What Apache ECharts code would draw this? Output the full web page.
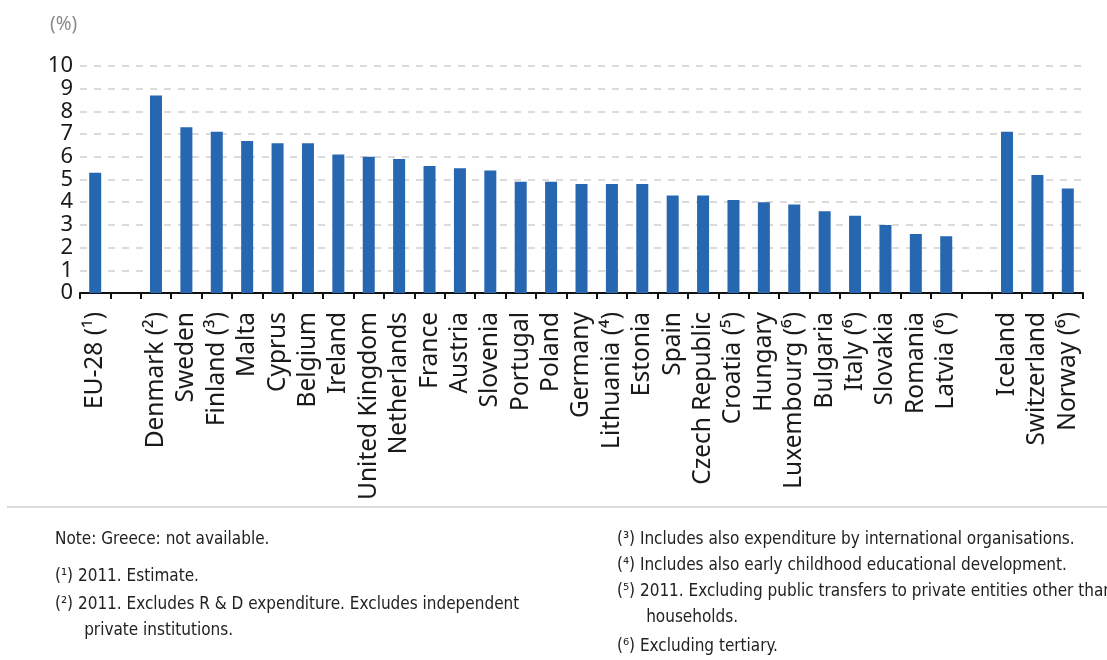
<!DOCTYPE html>
<html>
<head>
<meta charset="utf-8">
<script src="https://cdn.jsdelivr.net/npm/echarts@6/dist/echarts.min.js"></script>
<style>
html,body{margin:0;padding:0;background:#fff;}
#chart{width:1107px;height:660px;}
</style>
</head>
<body>
<div id="chart"></div>
<script>
var categories = ['EU-28 (¹)', ' ', 'Denmark (²)', 'Sweden', 'Finland (³)', 'Malta', 'Cyprus', 'Belgium', 'Ireland', 'United Kingdom', 'Netherlands', 'France', 'Austria', 'Slovenia', 'Portugal', 'Poland', 'Germany', 'Lithuania (⁴)', 'Estonia', 'Spain', 'Czech Republic', 'Croatia (⁵)', 'Hungary', 'Luxembourg (⁶)', 'Bulgaria', 'Italy (⁶)', 'Slovakia', 'Romania', 'Latvia (⁶)', '  ', 'Iceland', 'Switzerland', 'Norway (⁶)'];
var values = [5.3, null, 8.7, 7.3, 7.1, 6.7, 6.6, 6.6, 6.1, 6.0, 5.9, 5.6, 5.5, 5.4, 4.9, 4.9, 4.8, 4.8, 4.8, 4.3, 4.3, 4.1, 4.0, 3.9, 3.6, 3.4, 3.0, 2.6, 2.5, null, 7.1, 5.2, 4.6];
var yTicks = { min: 0, max: 10, interval: 1 };
var unitLabel = '(%)';
var notesLeft = ['Note: Greece: not available.', '', '(¹) 2011. Estimate.', '(²) 2011. Excludes R & D expenditure. Excludes independent', '      private institutions.'];
var notesRight = ['(³) Includes also expenditure by international organisations.', '(⁴) Includes also early childhood educational development.', '(⁵) 2011. Excluding public transfers to private entities other than', '      households.', '(⁶) Excluding tertiary.'];

var chart = echarts.init(document.getElementById('chart'));
var noteFont = "'Liberation Sans Narrow', 'DejaVu Sans Condensed', sans-serif";
var graphics = [
  { type: 'text', left: 50, top: 15, style: { text: unitLabel, fill: '#8a8a8a', font: "19px 'Noto Sans', sans-serif" } },
  { type: 'line', shape: { x1: 7, y1: 507, x2: 1107, y2: 507 }, style: { stroke: '#dcdcdc', lineWidth: 2 } }
];
var leftY = [531, 0, 568, 596, 622];
notesLeft.forEach(function (t, i) {
  if (!t) return;
  graphics.push({ type: 'text', left: 55, top: leftY[i], style: { text: t, fill: '#222', font: '17px ' + noteFont } });
});
var rightY = [531, 557, 583, 609, 638];
notesRight.forEach(function (t, i) {
  graphics.push({ type: 'text', left: 617, top: rightY[i], style: { text: t, fill: '#222', font: '17px ' + noteFont } });
});

chart.setOption({
  animation: false,
  grid: { left: 80, right: 24, top: 66, bottom: 367, containLabel: false },
  xAxis: {
    type: 'category',
    data: categories,
    axisLine: { lineStyle: { color: '#111', width: 2 } },
    axisTick: { show: true, length: 6, lineStyle: { color: '#111', width: 2 } },
    axisLabel: { rotate: 90, interval: 0, margin: 19, color: '#1a1a1a', fontSize: 24.5, fontFamily: "'Noto Sans', sans-serif" }
  },
  yAxis: {
    type: 'value',
    min: yTicks.min, max: yTicks.max, interval: yTicks.interval,
    axisLine: { show: false },
    axisTick: { show: false },
    axisLabel: { color: '#1a1a1a', fontSize: 22, margin: 7, fontFamily: "'Noto Sans', sans-serif" },
    splitLine: { lineStyle: { color: '#cfcfcf', width: 1.5, type: [7, 7] } }
  },
  series: [{
    type: 'bar',
    data: values,
    barWidth: 12,
    itemStyle: { color: '#2766b0' }
  }],
  graphic: graphics
});
</script>
</body>
</html>
